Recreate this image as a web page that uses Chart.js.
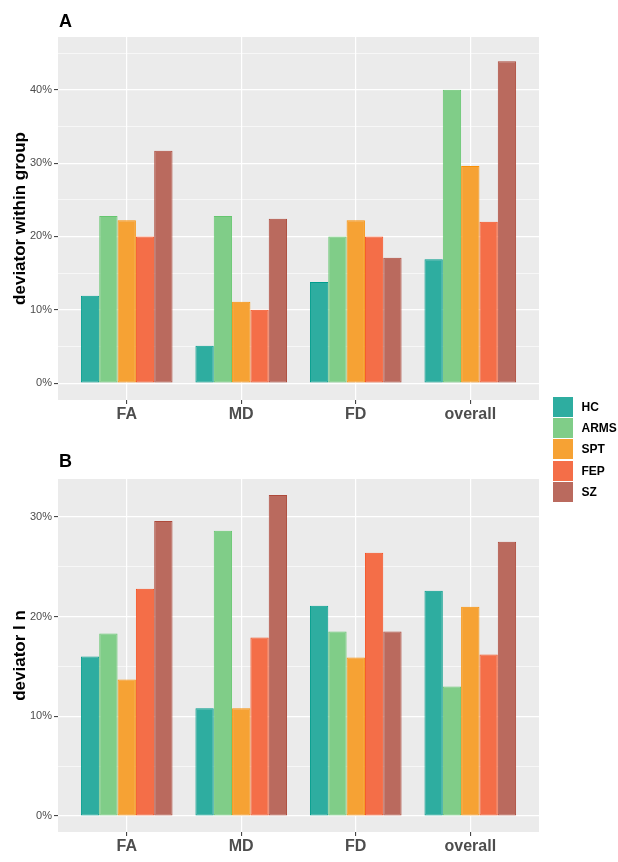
<!DOCTYPE html>
<html>
<head>
<meta charset="utf-8">
<script src="https://cdn.jsdelivr.net/npm/chart.js@4.4.0/dist/chart.umd.min.js"></script>
<style>
  body { margin: 0; background: #fff; font-family: "Liberation Sans", Arial, sans-serif; }
  #wrap { position: relative; width: 618px; height: 862px; }
  #chartA { position: absolute; left: 0; top: 0; }
  #chartB { position: absolute; left: 0; top: 430px; }
  #legend { position: absolute; left: 553px; top: 396px; }
  .key { display: flex; align-items: center; height: 21.3px; }
  .swatch { width: 19.5px; height: 20px; margin-right: 9px; }
  .key span { font-weight: bold; font-size: 12px; color: #000; }
</style>
</head>
<body>
<div id="wrap">
  <canvas id="chartA" width="618" height="430"></canvas>
  <canvas id="chartB" width="618" height="432"></canvas>
  <div id="legend"></div>
</div>
<script>
const categories = ['FA', 'MD', 'FD', 'overall'];
const groups = ['HC', 'ARMS', 'SPT', 'FEP', 'SZ'];

// panel A: deviator within group (%)
const hcA   = [11.9, 5.1, 13.8, 16.9];
const armsA = [22.8, 22.8, 20.0, 40.0];
const sptA  = [22.2, 11.1, 22.2, 29.6];
const fepA  = [20.0, 10.0, 20.0, 22.0];
const szA   = [31.7, 22.4, 17.1, 43.9];

// panel B: deviator / n (%)
const hcB   = [16.0, 10.8, 21.1, 22.6];
const armsB = [18.3, 28.6, 18.5, 13.0];
const sptB  = [13.7, 10.8, 15.9, 21.0];
const fepB  = [22.8, 17.9, 26.4, 16.2];
const szB   = [29.6, 32.2, 18.5, 27.5];

const yTicksA = [0, 10, 20, 30, 40];
const yTicksB = [0, 10, 20, 30];

const fills   = ['#2EADA0', '#80CD88', '#F6A234', '#F46E48', '#BA6A5E'];
const borders = ['#009D8D', '#65C66F', '#F99006', '#F64F1F', '#AE4A3B'];

const FONT = '"Liberation Sans", Arial, sans-serif';

const panelBg = {
  id: 'panelBg',
  beforeDraw(chart) {
    const a = chart.chartArea, ctx = chart.ctx;
    ctx.save();
    ctx.fillStyle = '#EBEBEB';
    ctx.fillRect(a.left, a.top, a.right - a.left, a.bottom - a.top);
    ctx.restore();
  }
};

const panelLabel = {
  id: 'panelLabel',
  afterDraw(chart, args, opts) {
    const ctx = chart.ctx;
    ctx.save();
    ctx.font = 'bold 18px ' + FONT;
    ctx.fillStyle = '#000';
    ctx.textBaseline = 'alphabetic';
    ctx.fillText(opts.text, chart.chartArea.left + 1, opts.y);
    ctx.restore();
  }
};

function makeChart(id, series, yMin, yMax, majors, yTitle, label, labelY, topPad) {
  const datasets = series.map((vals, k) => ({
    label: groups[k],
    data: vals.map((v, i) => ({ x: i + 1, y: v })),
    backgroundColor: fills[k],
    borderColor: borders[k],
    borderWidth: 1,
    borderSkipped: false,
    categoryPercentage: 0.8,
    barPercentage: 1.0
  }));
  return new Chart(document.getElementById(id), {
    type: 'bar',
    data: { datasets },
    plugins: [panelBg, panelLabel],
    options: {
      responsive: false,
      animation: false,
      layout: { padding: { left: 0, right: 79, top: topPad, bottom: 0 } },
      plugins: {
        legend: { display: false },
        tooltip: { enabled: false },
        panelLabel: { text: label, y: labelY }
      },
      scales: {
        x: {
          type: 'linear',
          min: 0.4,
          max: 4.6,
          offset: false,
          afterBuildTicks: s => { s.ticks = categories.map((c, i) => ({ value: i + 1 })); },
          afterFit: s => { s.height = 30; },
          grid: { offset: false, color: '#FFFFFF', lineWidth: 1.2, tickColor: '#333333', tickLength: 4, tickWidth: 1 },
          border: { display: false },
          ticks: {
            autoSkip: false,
            maxRotation: 0,
            padding: 1,
            color: '#4D4D4D',
            font: { family: FONT, size: 16, weight: 'bold' },
            callback: v => categories[v - 1]
          }
        },
        y: {
          min: yMin,
          max: yMax,
          afterBuildTicks: s => {
            const t = [];
            majors.forEach(v => {
              t.push({ value: v });
              if (v + 5 < yMax) t.push({ value: v + 5 });
            });
            s.ticks = t;
          },
          afterFit: s => { s.width = 58; },
          grid: {
            color: '#FFFFFF',
            lineWidth: c => (c.tick && majors.includes(c.tick.value)) ? 1.2 : 0.6,
            tickColor: c => (c.tick && majors.includes(c.tick.value)) ? '#333333' : 'rgba(0,0,0,0)',
            tickLength: 4,
            tickWidth: 1
          },
          border: { display: false },
          ticks: {
            autoSkip: false,
            padding: 2,
            color: '#4D4D4D',
            font: { family: FONT, size: 11 },
            callback: v => majors.includes(v) ? v + '%' : ''
          },
          title: {
            display: true,
            text: yTitle,
            color: '#000',
            font: { family: FONT, size: 17, weight: 'bold' },
            padding: { top: 10, bottom: 0 }
          }
        }
      }
    }
  });
}

makeChart('chartA', [hcA, armsA, sptA, fepA, szA], -2.3, 47.2, yTicksA, 'deviator within group', 'A', 27, 37);
makeChart('chartB', [hcB, armsB, sptB, fepB, szB], -1.6, 33.8, yTicksB, 'deviator l n', 'B', 37, 49);

const legend = document.getElementById('legend');
groups.forEach((g, k) => {
  const row = document.createElement('div');
  row.className = 'key';
  const sw = document.createElement('div');
  sw.className = 'swatch';
  sw.style.background = fills[k];
  const t = document.createElement('span');
  t.textContent = g;
  row.appendChild(sw);
  row.appendChild(t);
  legend.appendChild(row);
});
</script>
</body>
</html>
